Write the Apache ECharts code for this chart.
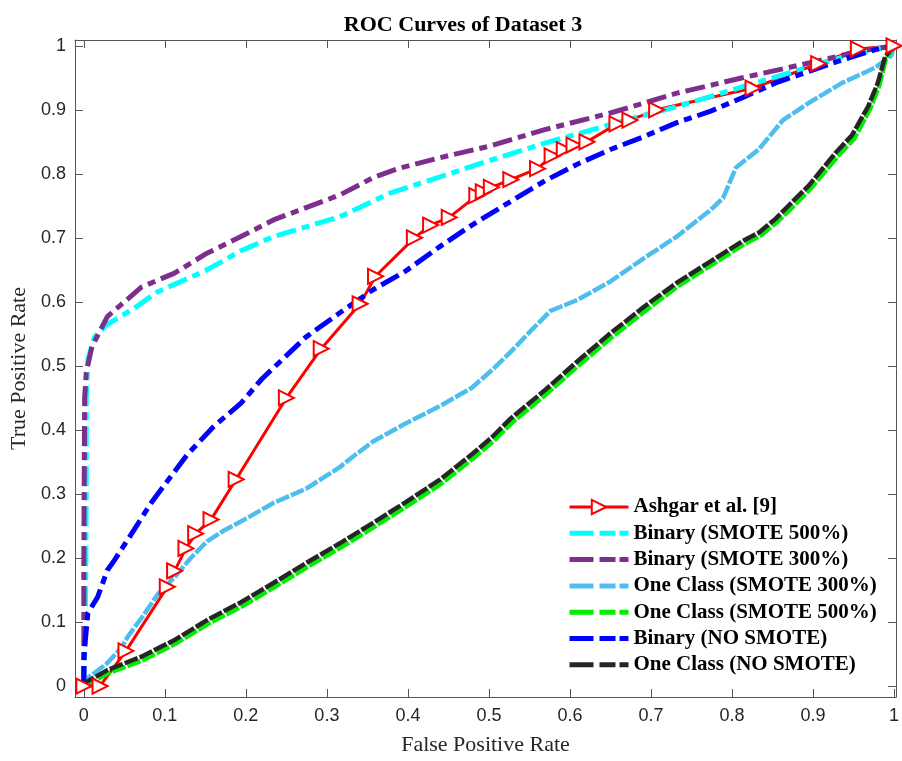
<!DOCTYPE html>
<html>
<head>
<meta charset="utf-8">
<script src="https://cdn.jsdelivr.net/npm/echarts@6/dist/echarts.min.js"></script>
<style>html,body{margin:0;padding:0;background:#fff;}#c{width:902px;height:761px;}</style>
</head>
<body>
<div id="c"></div>
<script>
var tickValues = [0, 0.1, 0.2, 0.3, 0.4, 0.5, 0.6, 0.7, 0.8, 0.9, 1];
var tickLabels = ['0', '0.1', '0.2', '0.3', '0.4', '0.5', '0.6', '0.7', '0.8', '0.9', '1'];
var seriesNames = ['Ashgar et al. [9]', 'Binary (SMOTE 500%)', 'Binary (SMOTE 300%)', 'One Class (SMOTE 300%)', 'One Class (SMOTE 500%)', 'Binary (NO SMOTE)', 'One Class (NO SMOTE)'];

var ashgar = [[0,0],[0.02,0],[0.052,0.055],[0.103,0.155],[0.112,0.18],[0.126,0.215],[0.138,0.238],[0.157,0.26],[0.188,0.323],[0.25,0.45],[0.293,0.527],[0.341,0.597],[0.36,0.64],[0.408,0.70],[0.428,0.72],[0.451,0.732],[0.485,0.766],[0.493,0.772],[0.503,0.779],[0.527,0.791],[0.56,0.808],[0.578,0.828],[0.593,0.838],[0.605,0.845],[0.621,0.85],[0.658,0.878],[0.674,0.884],[0.707,0.9],[0.826,0.934],[0.907,0.972],[0.956,0.995],[1,1]];
var binary500 = [[0,0],[0.002,0.1],[0.003,0.3],[0.003,0.45],[0.005,0.51],[0.013,0.545],[0.029,0.565],[0.062,0.59],[0.09,0.615],[0.152,0.65],[0.194,0.68],[0.234,0.702],[0.316,0.733],[0.378,0.77],[0.439,0.795],[0.504,0.822],[0.569,0.848],[0.65,0.877],[0.732,0.905],[0.813,0.936],[0.895,0.967],[0.956,0.989],[1,1]];
var binary300 = [[0,0],[0,0.2],[0.001,0.45],[0.003,0.49],[0.01,0.53],[0.029,0.577],[0.071,0.623],[0.112,0.645],[0.152,0.676],[0.194,0.702],[0.234,0.728],[0.316,0.767],[0.357,0.794],[0.39,0.809],[0.439,0.825],[0.5,0.843],[0.569,0.869],[0.65,0.895],[0.732,0.926],[0.813,0.95],[0.895,0.973],[0.956,0.991],[1,1]];
var oneClass300 = [[0,0],[0.001,0.009],[0.029,0.036],[0.047,0.061],[0.054,0.077],[0.071,0.106],[0.091,0.143],[0.112,0.17],[0.132,0.2],[0.152,0.226],[0.173,0.243],[0.201,0.262],[0.234,0.286],[0.274,0.308],[0.316,0.342],[0.336,0.362],[0.357,0.382],[0.397,0.41],[0.439,0.437],[0.479,0.466],[0.505,0.495],[0.527,0.522],[0.548,0.55],[0.576,0.586],[0.609,0.603],[0.65,0.632],[0.691,0.668],[0.732,0.702],[0.772,0.742],[0.789,0.762],[0.805,0.81],[0.833,0.838],[0.863,0.884],[0.895,0.911],[0.936,0.942],[0.977,0.966],[0.997,0.985],[1,1]];
var oneClass500 = [[0,0],[0.002,0.003],[0.03,0.02],[0.072,0.04],[0.113,0.066],[0.153,0.097],[0.196,0.125],[0.236,0.155],[0.276,0.186],[0.318,0.217],[0.359,0.249],[0.399,0.281],[0.441,0.316],[0.481,0.356],[0.506,0.383],[0.529,0.412],[0.571,0.456],[0.611,0.501],[0.652,0.545],[0.693,0.586],[0.734,0.625],[0.774,0.657],[0.815,0.690],[0.836,0.704],[0.857,0.726],[0.878,0.752],[0.898,0.778],[0.931,0.828],[0.951,0.855],[0.97,0.9],[0.982,0.938],[0.99,0.98],[1,1]];
var binaryNo = [[0,0],[0,0.04],[0.001,0.06],[0.005,0.114],[0.017,0.139],[0.029,0.181],[0.038,0.197],[0.062,0.244],[0.083,0.286],[0.103,0.32],[0.128,0.362],[0.16,0.405],[0.194,0.442],[0.22,0.48],[0.274,0.545],[0.316,0.583],[0.357,0.619],[0.397,0.648],[0.439,0.686],[0.479,0.72],[0.527,0.757],[0.569,0.789],[0.609,0.815],[0.65,0.838],[0.691,0.858],[0.732,0.88],[0.772,0.897],[0.813,0.919],[0.854,0.942],[0.895,0.96],[0.936,0.978],[0.977,0.994],[1,1]];
var oneClassNo = [[0,0],[0.001,0.005],[0.029,0.025],[0.071,0.046],[0.112,0.072],[0.152,0.103],[0.194,0.131],[0.234,0.161],[0.274,0.192],[0.316,0.223],[0.357,0.255],[0.397,0.287],[0.439,0.322],[0.479,0.362],[0.504,0.389],[0.527,0.418],[0.569,0.462],[0.609,0.507],[0.65,0.551],[0.691,0.592],[0.732,0.630],[0.772,0.662],[0.813,0.695],[0.833,0.708],[0.854,0.730],[0.875,0.757],[0.895,0.782],[0.928,0.833],[0.948,0.860],[0.968,0.905],[0.98,0.942],[0.989,0.983],[1,1]];

var axisColor = '#555555';
var labelColor = '#262626';
var serif = '"Liberation Serif", "Times New Roman", serif';
var sans = '"Liberation Sans", Arial, sans-serif';

function fmt(v) {
  var i = tickValues.findIndex(function (t) { return Math.abs(t - v) < 1e-9; });
  return i >= 0 ? tickLabels[i] : '';
}

function makeAxis(pos, isX, showLabel, name) {
  var a = {
    type: 'value',
    position: pos,
    min: isX ? -0.011 : -0.017,
    max: isX ? 1.0025 : 1.009,
    splitLine: { show: false },
    axisLine: { show: true, onZero: false, lineStyle: { color: axisColor, width: 1 } },
    axisTick: { show: true, inside: true, length: 8, customValues: tickValues, lineStyle: { color: axisColor, width: 1 } },
    axisLabel: {
      show: showLabel, customValues: tickValues, formatter: fmt,
      color: labelColor, fontFamily: sans, fontSize: 18, margin: isX ? 10 : 9
    }
  };
  if (name) {
    a.name = name;
    a.nameLocation = 'middle';
    a.nameGap = isX ? 37 : 40;
    a.nameTextStyle = { fontFamily: serif, fontSize: 22, color: labelColor };
  }
  return a;
}

function dashed(name, data, color, width, dash) {
  return {
    name: name, type: 'line', data: data, symbol: 'none', smooth: false,
    xAxisIndex: 0, yAxisIndex: 0,
    itemStyle: { color: color },
    lineStyle: { color: color, width: width, type: dash },
    emphasis: { disabled: true }
  };
}

var legendData = seriesNames.map(function (n, i) {
  return i === 0
    ? { name: n, lineStyle: { width: 3 } }
    : { name: n, itemStyle: { opacity: 0 }, lineStyle: { width: 5, type: [24, 6, 16, 4] } };
});

var option = {
  animation: false,
  backgroundColor: '#ffffff',
  title: {
    text: 'ROC Curves of Dataset 3',
    left: 458, top: 9, textAlign: 'center',
    textStyle: { fontFamily: serif, fontSize: 22, fontWeight: 'bold', color: '#000' }
  },
  grid: { left: 74, right: 1, top: 40, bottom: 64, containLabel: false },
  xAxis: [makeAxis('bottom', true, true, 'False Positive Rate'), makeAxis('top', true, false)],
  yAxis: [makeAxis('left', false, true, 'True Positive Rate'), makeAxis('right', false, false)],
  legend: {
    orient: 'vertical',
    left: 567, top: 496,
    padding: 0,
    itemWidth: 59, itemHeight: 18, itemGap: 4.3,
    backgroundColor: '#ffffff',
    textStyle: { fontFamily: serif, fontSize: 21, fontWeight: 'bold', color: '#000', lineHeight: 22, padding: [0, 0, 0, 0] },
    data: legendData
  },
  series: [
    {
      name: seriesNames[0], type: 'line', data: ashgar,
      symbol: 'emptyTriangle', symbolSize: 15, symbolRotate: -90,
      xAxisIndex: 0, yAxisIndex: 0,
      itemStyle: { color: '#ff0000', borderColor: '#ff0000', borderWidth: 3 },
      lineStyle: { color: '#ff0000', width: 3 },
      emphasis: { disabled: true }
    },
    dashed(seriesNames[1], binary500, '#00ffff', 5, [20, 6, 8, 6]),
    dashed(seriesNames[2], binary300, '#7e2f8e', 5, [20, 6, 8, 6]),
    dashed(seriesNames[3], oneClass300, '#4dbeee', 4.5, [14, 2]),
    dashed(seriesNames[4], oneClass500, '#00ee00', 4.5, [14, 2]),
    dashed(seriesNames[5], binaryNo, '#0000ff', 5, [20, 6, 8, 6]),
    dashed(seriesNames[6], oneClassNo, '#262626', 4.5, [14, 2])
  ]
};

var chart = echarts.init(document.getElementById('c'), null, { renderer: 'canvas' });
chart.setOption(option);
</script>
</body>
</html>
